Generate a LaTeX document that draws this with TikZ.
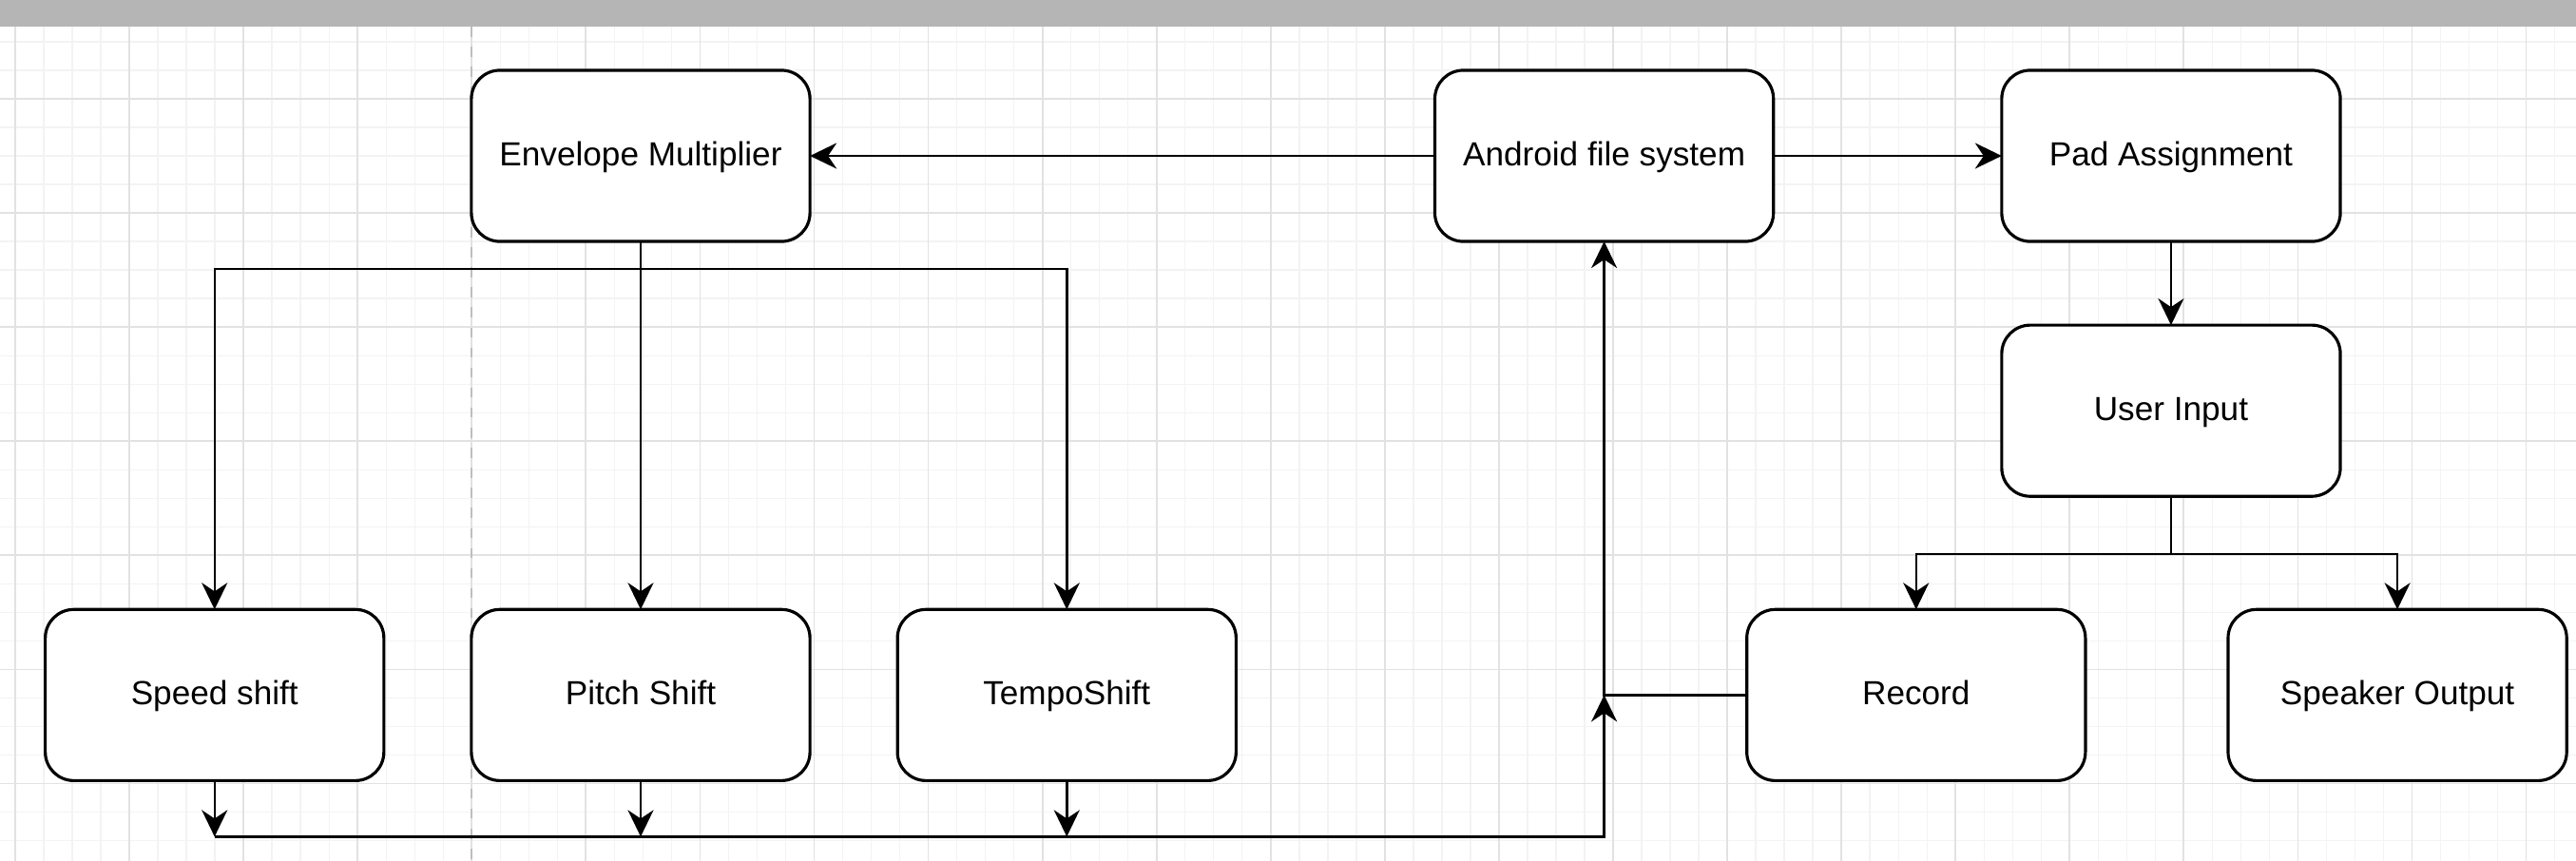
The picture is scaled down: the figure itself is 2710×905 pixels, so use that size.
\documentclass[tikz,border=0pt]{standalone}
\usepackage{fontspec}
\setmainfont{Liberation Sans}
\usetikzlibrary{arrows.meta,positioning}
\definecolor{barGray}{RGB}{181,181,181}
\definecolor{gridMinor}{RGB}{243,243,243}
\definecolor{gridMajor}{RGB}{226,226,226}
\definecolor{pageBreak}{RGB}{190,190,190}

\begin{document}
\begin{tikzpicture}[
  x=0.01cm, y=-0.01cm,
  node distance=3.87cm and 0.92cm,
  box/.style={draw, rounded corners=0.3cm, line width=0.9pt, fill=white,
              minimum width=3.56cm, minimum height=1.8cm, inner sep=0pt,
              outer sep=0pt, text height=1.6ex, text depth=0.5ex,
              font=\fontsize{10}{12}\selectfont},
  arr/.style={-{Stealth[length=2.8mm, width=2.7mm, inset=0.9mm]}, line width=0.7pt}
]
\useasboundingbox (0,0) rectangle (2710,905);
% canvas backdrop
\begin{scope}
  \clip (0,28) rectangle (2710,905);
  \draw[gridMinor, line width=0.4pt, xshift=0.16cm, yshift=-1.04cm, step=0.3cm]
    (-100,1000) grid (2800,-200);
  \draw[gridMajor, line width=0.5pt, xshift=0.16cm, yshift=-1.04cm, step=1.2cm]
    (-100,1000) grid (2800,-200);
\end{scope}
\fill[barGray] (0,0) rectangle (2710,28);
\draw[pageBreak, dashed, line width=0.5pt] (496,28) -- (496,905);

\node[box] (env) at (674,164) {Envelope Multiplier};
\node[box] (afs) [right=6.57cm of env] {Android file system};
\node[box] (pad) [right=2.4cm of afs] {Pad Assignment};
\node[box] (uin) [below=0.88cm of pad] {User Input};
\node[box] (pitch) [below=of env] {Pitch Shift};
\node[box] (speed) [left=of pitch] {Speed shift};
\node[box] (tempo) [right=of pitch] {TempoShift};
\node[box] (rec) [right=5.37cm of tempo] {Record};
\node[box] (spk) [right=1.5cm of rec] {Speaker Output};

\draw[arr] (afs) -- (env);
\draw[arr] (afs) -- (pad);
\draw[arr] (pad) -- (uin);
\draw[arr] (env) -- (pitch);
\draw[arr] (env.south) -- ++(0,29) -| (speed.north);
\draw[arr] (env.south) -- ++(0,29) -| (tempo.north);
\draw[arr] (uin.south) -- ++(0,61) -| (rec.north);
\draw[arr] (uin.south) -- ++(0,61) -| (spk.north);
\draw[arr] (speed.south) -- ++(0,59);
\draw[arr] (pitch.south) -- ++(0,59);
\draw[arr] (tempo.south) -- ++(0,59);
\draw[arr] (speed.south) ++(0,59) -| (rec.west -| afs.south);
\draw[arr] (rec) -| (afs);
\end{tikzpicture}
\end{document}
